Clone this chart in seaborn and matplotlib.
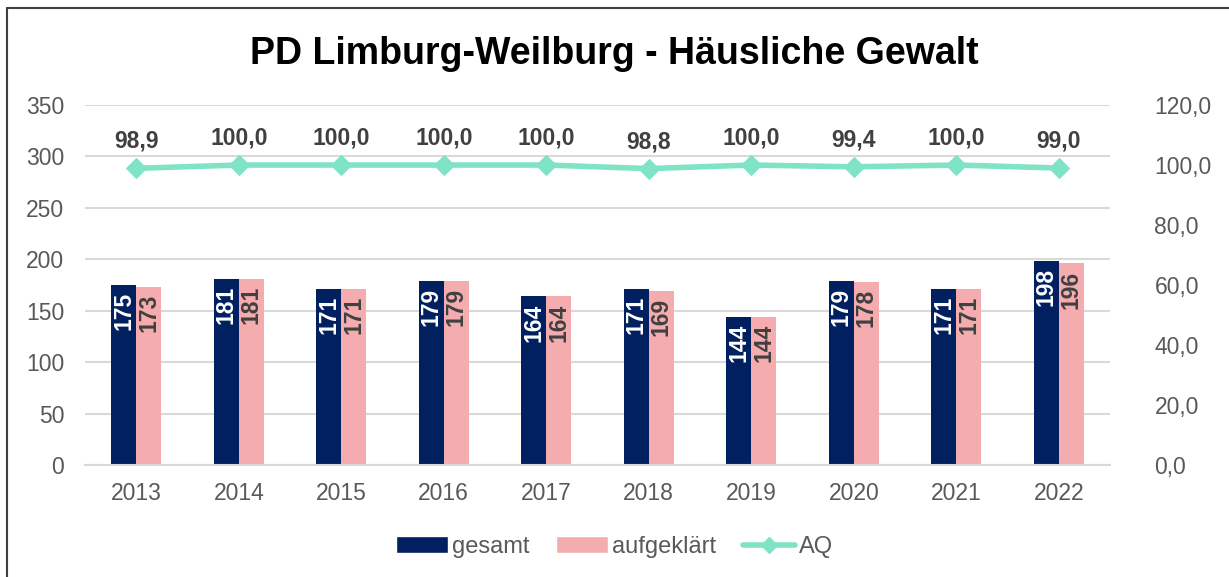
import matplotlib
matplotlib.use("Agg")
import matplotlib.pyplot as plt
from matplotlib.lines import Line2D
from matplotlib.patches import Patch
from matplotlib.ticker import FuncFormatter, MultipleLocator
import numpy as np
import pandas as pd
import seaborn as sns

years = ["2013", "2014", "2015", "2016", "2017", "2018", "2019", "2020", "2021", "2022"]
gesamt = [175, 181, 171, 179, 164, 171, 144, 179, 171, 198]
aufgeklaert = [173, 181, 171, 179, 164, 169, 144, 178, 171, 196]
aq = [98.9, 100.0, 100.0, 100.0, 100.0, 98.8, 100.0, 99.4, 100.0, 99.0]

navy = "#002060"
pink = "#F4ACAF"
mint = "#7FE3C6"
grid_col = "#D9D9D9"
txt_col = "#595959"
lbl_col = "#404040"

sns.set_theme(style="white")
plt.rcParams["font.family"] = ["Liberation Sans", "DejaVu Sans"]

df = pd.DataFrame({
    "Jahr": years * 2,
    "Wert": gesamt + aufgeklaert,
    "Serie": ["gesamt"] * len(years) + ["aufgeklärt"] * len(years),
})

fig = plt.figure(figsize=(12.29, 5.77), dpi=100)
ax = fig.add_axes([0.0692, 0.194, 0.8340, 0.624])

sns.barplot(
    data=df, x="Jahr", y="Wert", hue="Serie",
    palette={"gesamt": navy, "aufgeklärt": pink},
    width=0.49, gap=0, saturation=1, linewidth=0, legend=False, ax=ax,
)
for cont, col in zip(ax.containers, ["white", lbl_col]):
    for rect in cont:
        ax.annotate(
            f"{int(rect.get_height())}",
            (rect.get_x() + rect.get_width() / 2, rect.get_height()),
            xytext=(0, -5), textcoords="offset points",
            rotation=90, ha="center", va="top",
            fontsize=16.5, fontweight="bold", color=col,
        )

ax.set_ylim(0, 350)
ax.set_xlim(-0.5, len(years) - 0.5)
ax.yaxis.set_major_locator(MultipleLocator(50))
ax.grid(axis="y", color=grid_col, lw=1.5)
ax.set_axisbelow(True)
for s in ["top", "left", "right"]:
    ax.spines[s].set_visible(False)
ax.spines["bottom"].set_color(grid_col)
ax.spines["bottom"].set_linewidth(1.5)
ax.tick_params(axis="x", length=0, pad=12, labelsize=16.5, labelcolor=txt_col)
ax.tick_params(axis="y", length=0, pad=15, labelsize=16.5, labelcolor=txt_col)
ax.set_xlabel("")
ax.set_ylabel("")

ax2 = ax.twinx()
pos = np.arange(len(years))
sns.lineplot(x=pos, y=aq, ax=ax2, color=mint, lw=4, marker="D",
             markersize=10, markeredgecolor=mint, legend=False)
for x, v in zip(pos, aq):
    ax2.annotate(f"{v:.1f}".replace(".", ","), (x, v), xytext=(0, 19.5),
                 textcoords="offset points", ha="center", va="center",
                 fontsize=16.5, fontweight="bold", color=lbl_col)
ax2.set_ylim(0, 120)
ax2.yaxis.set_major_locator(MultipleLocator(20))
ax2.yaxis.set_major_formatter(FuncFormatter(lambda v, p: f"{v:.1f}".replace(".", ",")))
ax2.tick_params(axis="y", length=0, pad=32, labelsize=16.5, labelcolor=txt_col)
ax2.grid(False)
for s in ax2.spines.values():
    s.set_visible(False)

fig.text(0.5, 0.906, "PD Limburg-Weilburg - Häusliche Gewalt", ha="center",
         va="center", fontsize=27, fontweight="bold", color="black")

handles = [
    Patch(facecolor=navy, label="gesamt"),
    Patch(facecolor=pink, label="aufgeklärt"),
    Line2D([0], [0], color=mint, lw=4, marker="D", markersize=8, label="AQ"),
]
fig.legend(handles=handles, loc="center", bbox_to_anchor=(0.5, 0.052), ncol=3,
           frameon=False, fontsize=17, labelcolor=txt_col, handlelength=2.2,
           handletextpad=0.2, columnspacing=1.1)

fig.add_artist(Line2D([7 / 1229, 1], [1 - 8 / 577, 1 - 8 / 577], color="#404040", lw=1.5))
fig.add_artist(Line2D([7 / 1229, 7 / 1229], [0, 1 - 8 / 577], color="#404040", lw=1.5))

fig.savefig("out.png", dpi=100)
